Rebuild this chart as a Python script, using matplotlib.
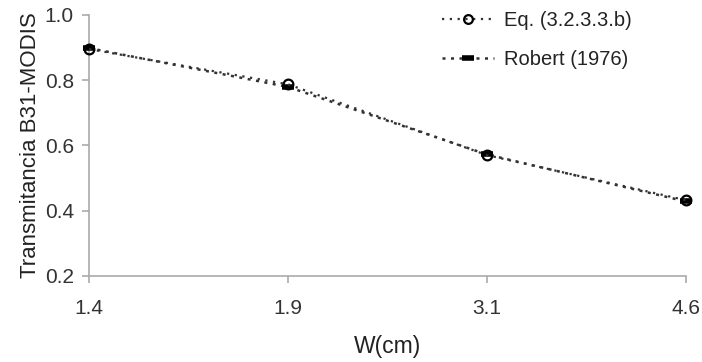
import matplotlib.pyplot as plt

plt.rcParams['font.family'] = ['Liberation Sans', 'DejaVu Sans']

w_labels = ['1.4', '1.9', '3.1', '4.6']
eq_vals = [0.895, 0.787, 0.570, 0.432]
robert_vals = [0.898, 0.779, 0.572, 0.428]

x = list(range(len(w_labels)))

fig = plt.figure(figsize=(7.02, 3.62), dpi=100)
ax = fig.add_axes([0.127, 0.238, 0.850, 0.721])

ax.plot(x, robert_vals, linestyle=(0, (1.2, 2.2)), color='#333333', linewidth=1.8,
        marker='_', markersize=9, markeredgewidth=4, markeredgecolor='black',
        label='Robert (1976)', clip_on=False, zorder=3)
ax.plot(x, eq_vals, linestyle=(0, (1, 2.5)), color='#333333', linewidth=1.6,
        marker='o', markersize=7, markerfacecolor='none', markeredgewidth=1.6,
        markeredgecolor='black', label='Eq. (3.2.3.3.b)', clip_on=False, zorder=4)

ax.set_xlim(0, 3)
ax.set_ylim(0.2, 1.0)
ax.set_xticks(x)
ax.set_xticklabels(w_labels)
ax.set_yticks([0.2, 0.4, 0.6, 0.8, 1.0])
ax.set_yticklabels(['0.2', '0.4', '0.6', '0.8', '1.0'])

for side in ['top', 'right']:
    ax.spines[side].set_visible(False)
for side in ['left', 'bottom']:
    ax.spines[side].set_color('#aaaaaa')
    ax.spines[side].set_linewidth(1.2)

ax.tick_params(axis='both', colors='#aaaaaa', labelcolor='#333333', labelsize=15,
               length=5, width=1.2)
ax.tick_params(axis='x', pad=12)
ax.tick_params(axis='y', pad=6)

ax.set_xlabel('W(cm)', fontsize=16.5, color='#222222', labelpad=12)
ax.set_ylabel('Transmitancia B31-MODIS', fontsize=16, color='#222222', labelpad=3)

h, l = ax.get_legend_handles_labels()
leg = ax.legend(h[::-1], l[::-1], loc='upper right', bbox_to_anchor=(0.94, 1.085),
                frameon=False, fontsize=14.5, handlelength=2.6, labelspacing=1.0,
                handletextpad=0.5, markerscale=0.9)
for t in leg.get_texts():
    t.set_color('#222222')

fig.savefig('out.png', dpi=100)
